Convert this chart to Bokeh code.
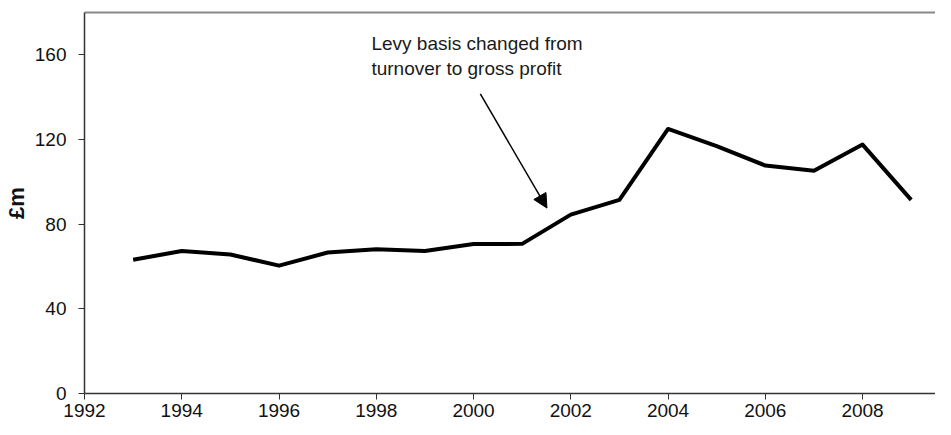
from bokeh.plotting import figure
from bokeh.models import ColumnDataSource, Arrow, NormalHead, LinearAxis, Range1d, FixedTicker, Label
from bokeh.embed import file_html
from bokeh.resources import INLINE

years = [1993, 1994, 1995, 1996, 1997, 1998, 1999, 2000, 2001, 2002, 2003, 2004, 2005, 2006, 2007, 2008, 2009]
levy = [63.2, 67.3, 65.7, 60.4, 66.6, 68.1, 67.3, 70.6, 70.7, 84.5, 91.5, 125.0, 116.9, 107.7, 105.2, 117.6, 91.5]
x_ticks = [1992, 1994, 1996, 1998, 2000, 2002, 2004, 2006, 2008]
y_ticks = [0, 40, 80, 120, 160]
y_label = "£m"
note_lines = ["Levy basis changed from", "turnover to gross profit"]
note_text_pos = (1997.9, 148.5)
arrow_start = (2000.14, 141.5)
arrow_end = (2001.51, 87.6)

FONT = "Liberation Sans"

p = figure(width=935, height=419, output_backend="svg", toolbar_location=None,
           x_range=Range1d(1992, 2009.5), y_range=Range1d(0, 180),
           min_border_left=75, min_border_right=0, min_border_top=12, min_border_bottom=0,
           x_axis_type=None, y_axis_type=None)
p.outline_line_color = None
p.grid.visible = False
p.background_fill_color = "white"
p.border_fill_color = "white"

xaxis = LinearAxis(ticker=FixedTicker(ticks=x_ticks))
yaxis = LinearAxis(ticker=FixedTicker(ticks=y_ticks), axis_label=y_label)
for ax in (xaxis, yaxis):
    ax.major_label_text_font = FONT
    ax.major_label_text_font_size = "19px"
    ax.major_label_text_color = "#111111"
    ax.axis_line_color = "#333333"
    ax.axis_line_width = 1.5
    ax.major_tick_line_color = "#333333"
    ax.major_tick_in = 0
    ax.major_tick_out = 6
    ax.minor_tick_line_color = None
xaxis.major_label_standoff = 4
yaxis.major_label_standoff = 12
yaxis.axis_label_text_font = FONT
yaxis.axis_label_text_font_size = "22px"
yaxis.axis_label_text_font_style = "bold"
yaxis.axis_label_text_color = "#111111"
yaxis.axis_label_standoff = 3
p.add_layout(xaxis, "below")
p.add_layout(yaxis, "left")

top = LinearAxis(ticker=FixedTicker(ticks=[]))
top.axis_line_color = "#888888"
top.axis_line_width = 2
top.major_tick_line_color = None
top.minor_tick_line_color = None
top.major_label_text_font_size = "0px"
p.add_layout(top, "above")

src = ColumnDataSource(dict(x=years, y=levy))
p.line("x", "y", source=src, line_color="black", line_width=4, line_join="round")

p.add_layout(Arrow(end=NormalHead(size=14, fill_color="black", line_color="black"),
                   x_start=arrow_start[0], y_start=arrow_start[1],
                   x_end=arrow_end[0], y_end=arrow_end[1],
                   line_color="black", line_width=1.5))

p.add_layout(Label(x=note_text_pos[0], y=note_text_pos[1], text="\n".join(note_lines),
                   text_font=FONT, text_font_size="19px", text_color="#1a1a1a",
                   text_baseline="bottom", text_align="left"))

open("out.html", "w").write(file_html(p, INLINE))
